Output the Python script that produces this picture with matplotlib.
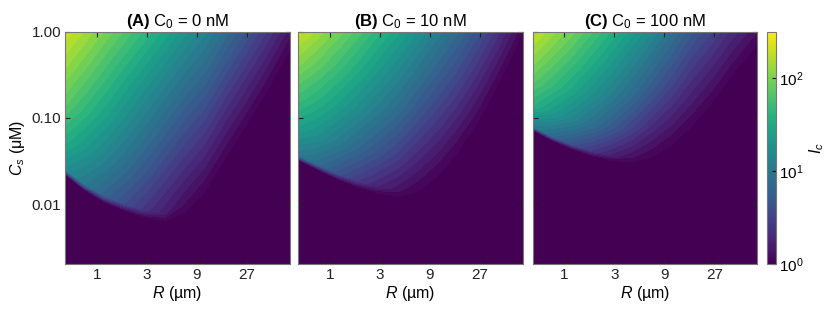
import numpy as np
import matplotlib
matplotlib.use("Agg")
import matplotlib.pyplot as plt
from matplotlib.colors import Normalize, LogNorm
from matplotlib.cm import ScalarMappable

plt.rcParams['font.family'] = ['Liberation Sans', 'DejaVu Sans']
plt.rcParams['mathtext.fontset'] = 'custom'
plt.rcParams['mathtext.rm'] = 'Liberation Sans'
plt.rcParams['mathtext.it'] = 'Liberation Sans:italic'
plt.rcParams['mathtext.bf'] = 'Liberation Sans:bold'

# columns of the grid: cell radius R (um)
R = [0.5, 0.76, 1.18, 1.83, 2.84, 4.41, 6.84, 10.6, 16.4, 25.5, 39.6, 68.7]

# C_s (uM) where I_c falls to 1, for each R column
cut_a = [0.0219, 0.0146, 0.0105, 0.0084, 0.0070, 0.0064, 0.0081, 0.0138, 0.0331, 0.0776, 0.186, 0.617]
cut_b = [0.0324, 0.0251, 0.0195, 0.0158, 0.0135, 0.0123, 0.0141, 0.0209, 0.0398, 0.0891, 0.240, 0.955]
cut_c = [0.0724, 0.0550, 0.0437, 0.0363, 0.0320, 0.0309, 0.0355, 0.0490, 0.0813, 0.151, 0.316, 0.708]

# log10 I_c read at 4%, 25%, 50%, 75% and 100% of the way (in log C_s) from the cut up to C_s = 1 uM
frac = [0.04, 0.25, 0.5, 0.75, 1.0]
log_ic_a = [
    [1.22, 1.55, 1.85, 2.09, 2.31],
    [1.00, 1.32, 1.64, 1.91, 2.16],
    [0.79, 1.10, 1.43, 1.71, 1.99],
    [0.58, 0.89, 1.22, 1.52, 1.82],
    [0.38, 0.68, 1.01, 1.33, 1.65],
    [0.19, 0.47, 0.81, 1.14, 1.47],
    [0.07, 0.34, 0.65, 0.97, 1.28],
    [0.04, 0.28, 0.56, 0.84, 1.11],
    [0.036, 0.22, 0.44, 0.67, 0.89],
    [0.027, 0.17, 0.33, 0.50, 0.67],
    [0.018, 0.11, 0.22, 0.33, 0.44],
    [0.005, 0.03, 0.06, 0.09, 0.13],
]
log_ic_b = [
    [1.02, 1.40, 1.73, 2.02, 2.29],
    [0.86, 1.25, 1.58, 1.87, 2.14],
    [0.63, 1.04, 1.40, 1.70, 1.97],
    [0.42, 0.83, 1.21, 1.52, 1.80],
    [0.25, 0.64, 1.02, 1.33, 1.62],
    [0.12, 0.47, 0.84, 1.15, 1.44],
    [0.05, 0.33, 0.66, 0.96, 1.25],
    [0.03, 0.26, 0.53, 0.79, 1.05],
    [0.03, 0.21, 0.43, 0.64, 0.85],
    [0.025, 0.155, 0.31, 0.465, 0.62],
    [0.015, 0.09, 0.185, 0.28, 0.37],
    [0.0005, 0.003, 0.006, 0.009, 0.012],
]
log_ic_c = [
    [1.08, 1.58, 1.86, 2.08, 2.28],
    [0.84, 1.35, 1.67, 1.90, 2.12],
    [0.61, 1.13, 1.47, 1.72, 1.95],
    [0.40, 0.90, 1.26, 1.52, 1.76],
    [0.22, 0.68, 1.05, 1.32, 1.57],
    [0.10, 0.48, 0.84, 1.11, 1.37],
    [0.05, 0.32, 0.64, 0.90, 1.16],
    [0.03, 0.24, 0.48, 0.70, 0.92],
    [0.025, 0.17, 0.34, 0.51, 0.68],
    [0.02, 0.125, 0.25, 0.375, 0.50],
    [0.012, 0.075, 0.15, 0.225, 0.30],
    [0.004, 0.022, 0.045, 0.068, 0.09],
]

titles = [r"$\bf{(A)}$ C$_0$ = 0 nM", r"$\bf{(B)}$ C$_0$ = 10 nM", r"$\bf{(C)}$ C$_0$ = 100 nM"]
panels = [(cut_a, log_ic_a), (cut_b, log_ic_b), (cut_c, log_ic_c)]

r_lim = (0.5, 69)
cs_lim = (0.002, 1.0)
xticks = [1, 3, 9, 27]
yticks = [1.0, 0.1, 0.01]
ic_max = 10 ** 2.5

levels = np.linspace(0, 2.5, 31)
norm = Normalize(0, 2.5)
cmap = plt.get_cmap('viridis')


def grid(cut, vals):
    lx = np.log10(R)
    lc = np.log10(cut)
    f = np.array(frac)
    ys = [np.full(len(R), np.log10(cs_lim[0]) - 0.1), lc]
    zs = [np.full(len(R), -0.5), np.zeros(len(R))]
    v = np.array(vals)
    for i in range(len(f)):
        ys.append(lc * (1 - f[i]))
        zs.append(v[:, i])
    Y = np.array(ys)
    X = np.tile(lx, (len(ys), 1))
    return X, Y, np.array(zs)


fig = plt.figure(figsize=(8.3, 3.12), dpi=100)
lefts = [65.3, 298.3, 532.7]
w = 224.5
for k, (cut, vals) in enumerate(panels):
    ax = fig.add_axes([lefts[k] / 830, (312 - 264.3) / 312, w / 830, 232.6 / 312])
    X, Y, Z = grid(cut, vals)
    ax.contourf(X, Y, Z, levels=levels, cmap=cmap, norm=norm, extend='min')
    ax.set_xlim(np.log10(r_lim[0]), np.log10(r_lim[1]))
    ax.set_ylim(np.log10(cs_lim[0]), np.log10(cs_lim[1]))
    ax.set_xticks(np.log10(xticks))
    ax.set_xticklabels([str(t) for t in xticks])
    ax.set_yticks(np.log10(yticks))
    if k == 0:
        ax.set_yticklabels(["%.2f" % t for t in yticks])
        ax.set_ylabel(r"$C_s$ ($\mathrm{\mu}$M)", fontsize=11.5, labelpad=3)
    else:
        ax.set_yticklabels([])
    ax.set_xlabel(r"$R$ (µm)", fontsize=11.5, labelpad=1)
    ax.set_title(titles[k], fontsize=12, pad=4)
    ax.tick_params(direction='in', top=True, right=True, length=3.5, width=0.8,
                   labelsize=11, colors='#222222', pad=3)
    for s in ax.spines.values():
        s.set_color('#777777')
        s.set_linewidth(0.8)

cax = fig.add_axes([766.7 / 830, (312 - 264.3) / 312, 9.5 / 830, 232.6 / 312])
sm = ScalarMappable(norm=LogNorm(1, ic_max), cmap=cmap)
cb = fig.colorbar(sm, cax=cax)
cb.ax.tick_params(labelsize=11, direction='in', length=3, which='major', pad=2)
cb.ax.minorticks_off()
cb.outline.set_edgecolor('#777777')
cb.outline.set_linewidth(0.8)
cb.set_label(r"$I_c$", fontsize=11.5, labelpad=3)

fig.savefig("out.png", dpi=100)
